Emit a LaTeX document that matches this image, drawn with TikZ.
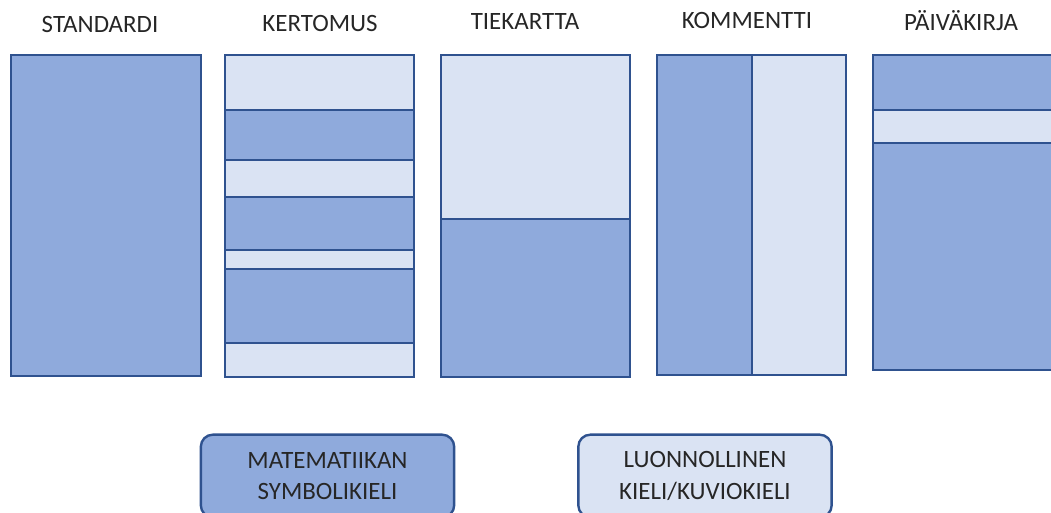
\documentclass[tikz,border=0pt]{standalone}
\usepackage{fontspec}
\setmainfont{Carlito}
\usepackage{tikz}
\definecolor{darkfill}{HTML}{8FAADC}
\definecolor{lightfill}{HTML}{DAE3F3}
\definecolor{edgeblue}{HTML}{2F528F}

\begin{document}
\begin{tikzpicture}[x=0.75pt, y=-0.75pt,
	DarkStyle/.style = {fill=darkfill, draw=edgeblue, line width=1.8pt},
	LightStyle/.style = {fill=lightfill, draw=edgeblue, line width=1.8pt},
	TitleStyle/.style = {font=\fontsize{18.7}{22}\selectfont, text=black!85, inner sep=0pt},
	LegendStyle/.style = {shape=rectangle, rounded corners=9pt, draw=edgeblue, line width=1.8pt, align=center,
		minimum width=190pt, minimum height=62pt, font=\fontsize{18.7}{23.5}\selectfont, text=black!85}]
	\useasboundingbox (0,0) rectangle (1051,512);

	% otsikot
	\node[TitleStyle] (standardi) at (100,24) {STANDARDI};
	\node[TitleStyle] (kertomus) at (320,23) {KERTOMUS};
	\node[TitleStyle] (tiekartta) at (525,21) {TIEKARTTA};
	\node[TitleStyle] (kommentti) at (747,20) {KOMMENTTI};
	\node[TitleStyle] (paivakirja) at (961,21) {PÄIVÄKIRJA};

	% standardi
	\path[DarkStyle] (11,55) rectangle (201,376);

	% kertomus
	\path[LightStyle] (225,55) rectangle (414,110);
	\path[DarkStyle] (225,110) rectangle (414,160);
	\path[LightStyle] (225,160) rectangle (414,197);
	\path[DarkStyle] (225,197) rectangle (414,250);
	\path[LightStyle] (225,250) rectangle (414,269);
	\path[DarkStyle] (225,269) rectangle (414,343);
	\path[LightStyle] (225,343) rectangle (414,377);

	% tiekartta
	\path[LightStyle] (441,55) rectangle (630,219);
	\path[DarkStyle] (441,219) rectangle (630,377);

	% kommentti
	\path[DarkStyle] (657,55) rectangle (752,375);
	\path[LightStyle] (752,55) rectangle (846,375);

	% paivakirja
	\path[DarkStyle] (873,55) rectangle (1056,110);
	\path[LightStyle] (873,110) rectangle (1056,143);
	\path[DarkStyle] (873,143) rectangle (1056,370);

	% selitteet
	\node[LegendStyle, fill=darkfill] (symboli) at (327.5,476) {MATEMATIIKAN\\SYMBOLIKIELI};
	\node[LegendStyle, fill=lightfill] (luonnollinen) at (705,476) {LUONNOLLINEN\\KIELI/KUVIOKIELI};
\end{tikzpicture}
\end{document}
